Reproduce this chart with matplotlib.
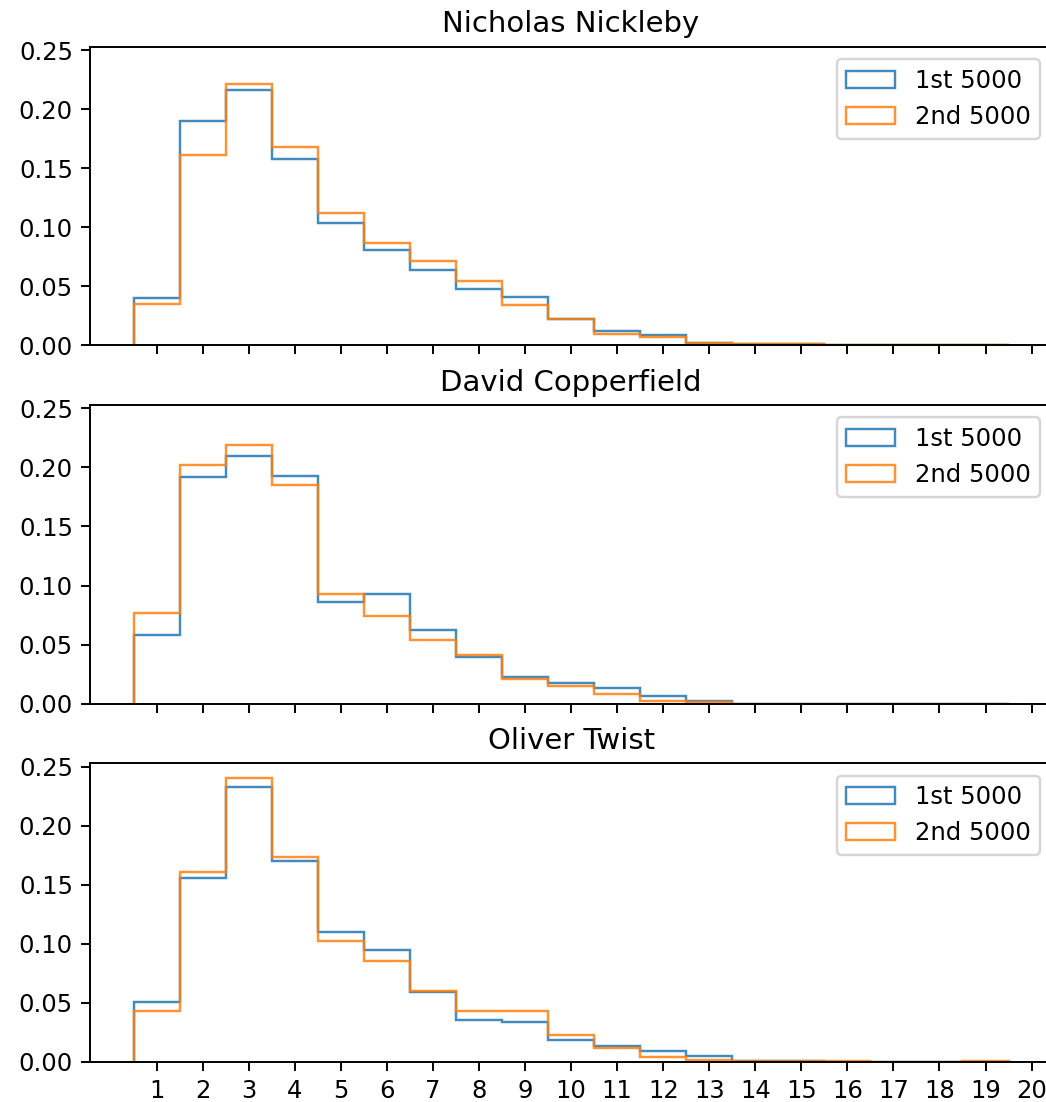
import numpy as np
import matplotlib
matplotlib.use('Agg')
import matplotlib.pyplot as plt

#word lengths 1..19, one bin per length
lengths = np.arange(1, 20)
edges = np.arange(0.5, 20.5, 1)

titles = ['Nicholas Nickleby', 'David Copperfield', 'Oliver Twist']
labels = ['1st 5000', '2nd 5000']

#relative frequencies
nn_first = [0.040, 0.190, 0.216, 0.158, 0.104, 0.081, 0.064, 0.048, 0.041, 0.0227,
            0.0122, 0.009, 0.0025, 0.0014, 0.001, 0.0004, 0.0003, 0.0002, 0.0002]
nn_second = [0.0355, 0.1614, 0.2214, 0.168, 0.1124, 0.087, 0.0716, 0.0546, 0.0345, 0.0227,
             0.0099, 0.0076, 0.0025, 0.0012, 0.0009, 0.0005, 0.0004, 0.0003, 0.0003]

dc_first = [0.0578, 0.1919, 0.2098, 0.1925, 0.0862, 0.0925, 0.0623, 0.0394, 0.023, 0.0173,
            0.013, 0.0068, 0.002, 0, 0, 0, 0, 0, 0]
dc_second = [0.0771, 0.2021, 0.2191, 0.1851, 0.0927, 0.0744, 0.0536, 0.0412, 0.0213, 0.0153,
             0.0082, 0.0023, 0.0014, 0, 0, 0, 0, 0, 0]

ot_first = [0.051, 0.1553, 0.2327, 0.1704, 0.1097, 0.0948, 0.0589, 0.0358, 0.0337, 0.0187,
            0.0133, 0.0091, 0.0048, 0.0011, 0.0012, 0, 0, 0, 0]
ot_second = [0.0434, 0.1604, 0.2406, 0.1738, 0.1023, 0.0853, 0.0598, 0.0435, 0.0428, 0.0227,
             0.0122, 0.0043, 0.0017, 0.0009, 0.0005, 0.0008, 0, 0, 0.0008]

books = [(nn_first, nn_second), (dc_first, dc_second), (ot_first, ot_second)]

fig, axes = plt.subplots(3, 1, sharex=True, sharey=True, figsize=(1046/175, 1102/175), dpi=175)
#right edge of the axes sits just past the picture, as in the original crop
fig.subplots_adjust(left=0.086, right=1.006, top=0.9574, bottom=0.0363, hspace=0.2)

for ax, title, (first, second) in zip(axes, titles, books):
    ax.hist(lengths, bins=edges, weights=first, histtype='step', color='tab:blue', alpha=0.85, label=labels[0])
    ax.hist(lengths, bins=edges, weights=second, histtype='step', color='tab:orange', alpha=0.85, label=labels[1])
    ax.set_title(title)
    ax.legend(loc='upper right')

axes[-1].set_xticks(range(1, 21))

plt.savefig('out.png', dpi=175)
